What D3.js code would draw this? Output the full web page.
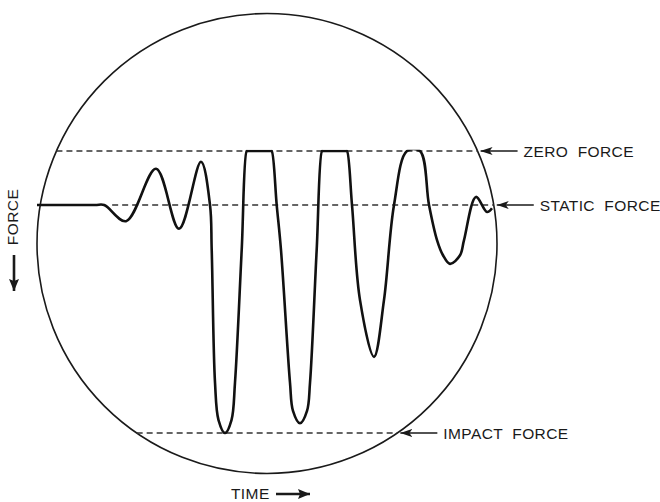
<!DOCTYPE html>
<html>
<head>
<meta charset="utf-8">
<script src="https://cdn.jsdelivr.net/npm/d3@7"></script>
<style>
  body { margin: 0; background: #fff; }
  text { font-family: "Liberation Sans", Arial, sans-serif; fill: #1a1a1a; }
</style>
</head>
<body>
<div id="chart"></div>
<script>
// Oscilloscope trace: time (arbitrary units) and force (static force = 1, downward positive)
var traceTime = [0, 12.61, 14.6, 19.35, 25.87, 30.87, 35.65, 37.61, 37.98, 38.7, 39.46, 40.87, 42.28, 43.04, 44.5, 45.59, 45.8,
    50.8, 51.02, 52.11, 53.04, 55.0, 55.65, 57.17, 58.7, 59.35, 60.8, 61.96, 62.17,
    67.17, 67.39, 68.48, 70.22, 73.26, 75.43, 77.61, 80.43,
    83.26, 85.22, 86.96, 88.26, 89.78, 91.96, 92.83, 95.43, 97.83, 98.91];
var traceForce = [1.0, 1.0, 1.0, 1.3, 0.33, 1.44, 0.2, 1.0, 1.83, 4.29, 4.98, 5.22, 4.98, 4.29, 1.83, 0, 0,
    0, 0, 1.0, 1.83, 4.29, 4.81, 5.04, 4.81, 4.29, 1.83, 0, 0,
    0, 0, 1.0, 2.76, 3.81, 2.76, 1.0, 0,
    0, 1.0, 1.65, 1.93, 2.09, 1.93, 1.65, 0.85, 1.13, 1.06];

// Reference levels
var levelNames = ["ZERO  FORCE", "STATIC  FORCE", "IMPACT  FORCE"];
var levelForce = [0, 1, 5.22];

var width = 660,
    height = 502;

var scope = { cx: 267, cy: 243.5, r: 230 };

var svg = d3.select("#chart")
    .append("svg")
    .attr("width", width)
    .attr("height", height);

var x = d3.scaleLinear().domain([0, 100]).range([37, 497]);
var y = d3.scaleLinear().domain([0, 5.22]).range([151, 433]);

var defs = svg.append("defs");

// the beam saturates at zero force
defs.append("clipPath")
    .attr("id", "beam")
    .append("rect")
    .attr("x", 0)
    .attr("y", y(0) - 1.3)
    .attr("width", width)
    .attr("height", height);

// arrow heads
defs.append("marker")
    .attr("id", "thin")
    .attr("viewBox", "0 0 12 8")
    .attr("refX", 12).attr("refY", 4)
    .attr("markerWidth", 12).attr("markerHeight", 8)
    .attr("markerUnits", "userSpaceOnUse")
    .attr("orient", "auto")
    .append("path")
    .attr("d", "M0,0 L12,4 L0,8 L3,4 Z")
    .attr("fill", "#1a1a1a");
defs.append("marker")
    .attr("id", "bold")
    .attr("viewBox", "0 0 12 10")
    .attr("refX", 12).attr("refY", 5)
    .attr("markerWidth", 12).attr("markerHeight", 10)
    .attr("markerUnits", "userSpaceOnUse")
    .attr("orient", "auto")
    .append("path")
    .attr("d", "M0,0 L12,5 L0,10 L2,5 Z")
    .attr("fill", "#1a1a1a");

// scope face
svg.append("circle")
    .attr("cx", scope.cx)
    .attr("cy", scope.cy)
    .attr("r", scope.r)
    .attr("fill", "none")
    .attr("stroke", "#1a1a1a")
    .attr("stroke-width", 1.6);

// half chord of the circle at a given y
function halfChord(py) {
    var dy = py - scope.cy;
    return Math.sqrt(scope.r * scope.r - dy * dy);
}

var levels = levelForce.map(function (f, i) {
    var py = y(f);
    var hc = halfChord(py);
    var x0 = scope.cx - hc;
    if (i === 1) x0 = x(traceTime[2]) + 8;  // static line starts where the trace leaves it
    return { name: levelNames[i], py: py, x0: x0, x1: scope.cx + hc };
});

// dashed level lines
svg.selectAll(".level")
    .data(levels)
    .join("line")
    .attr("class", "level")
    .attr("x1", d => d.x0)
    .attr("x2", d => d.x1)
    .attr("y1", d => d.py)
    .attr("y2", d => d.py)
    .attr("stroke", "#333")
    .attr("stroke-width", 1.3)
    .attr("stroke-dasharray", "6,4");

// pointer arrows and labels
svg.selectAll(".pointer")
    .data(levels)
    .join("line")
    .attr("class", "pointer")
    .attr("x1", d => d.x1 + 40)
    .attr("x2", d => d.x1 + 3)
    .attr("y1", d => d.py)
    .attr("y2", d => d.py)
    .attr("stroke", "#1a1a1a")
    .attr("stroke-width", 1.4)
    .attr("marker-end", "url(#thin)");

svg.selectAll(".label")
    .data(levels)
    .join("text")
    .attr("class", "label")
    .attr("x", d => d.x1 + 46)
    .attr("y", d => d.py + 5.5)
    .attr("font-size", 15.5)
    .attr("letter-spacing", 0.4)
    .style("white-space", "pre")
    .text(d => d.name);

// the trace
var line = d3.line()
    .x(function (d, i) { return x(traceTime[i]); })
    .y(function (d) { return y(d); })
    .curve(d3.curveCatmullRom.alpha(0.5));

svg.append("path")
    .datum(traceForce)
    .attr("d", line)
    .attr("clip-path", "url(#beam)")
    .attr("fill", "none")
    .attr("stroke", "#111")
    .attr("stroke-width", 2.6)
    .attr("stroke-linejoin", "round");

// axis captions
svg.append("text")
    .attr("x", 231)
    .attr("y", 499)
    .attr("font-size", 15.5)
    .attr("letter-spacing", 0.4)
    .text("TIME");
svg.append("line")
    .attr("x1", 276).attr("x2", 310)
    .attr("y1", 494).attr("y2", 494)
    .attr("stroke", "#1a1a1a")
    .attr("stroke-width", 2.6)
    .attr("marker-end", "url(#bold)");

svg.append("text")
    .attr("transform", "translate(18,217) rotate(-90)")
    .attr("text-anchor", "middle")
    .attr("font-size", 15.5)
    .attr("letter-spacing", 0.4)
    .text("FORCE");
svg.append("line")
    .attr("x1", 14).attr("x2", 14)
    .attr("y1", 255).attr("y2", 291)
    .attr("stroke", "#1a1a1a")
    .attr("stroke-width", 2.6)
    .attr("marker-end", "url(#bold)");
</script>
</body>
</html>
